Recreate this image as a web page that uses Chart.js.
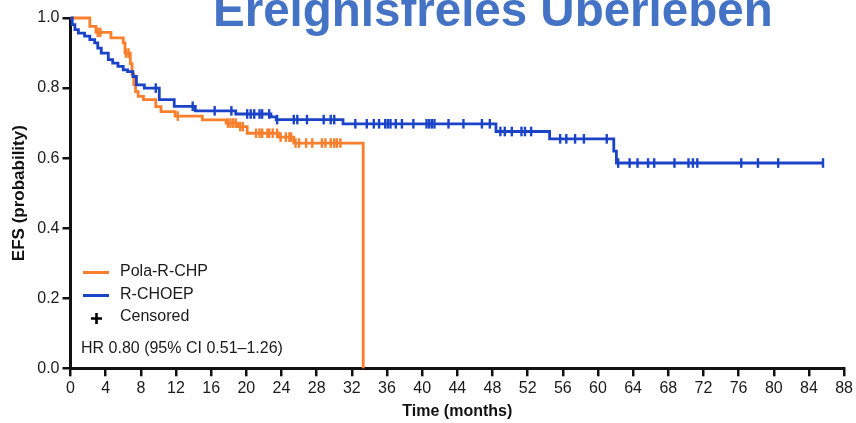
<!DOCTYPE html>
<html>
<head>
<meta charset="utf-8">
<script src="https://cdn.jsdelivr.net/npm/chart.js@4/dist/chart.umd.min.js"></script>
<style>
  html, body { margin: 0; padding: 0; background: #ffffff; }
  canvas { display: block; }
</style>
</head>
<body>
<canvas id="efs" width="856" height="423"></canvas>
<script>
// Kaplan-Meier steps: event times (months) and survival after each event
const polaTimes = [0, 2.2, 2.9, 4.6, 6.0, 6.2, 6.8, 7.0, 7.2, 7.4, 7.7, 8.3, 9.7, 10.3, 11.9, 15.0, 17.7, 19.0, 20.1, 23.7, 25.4, 33.3];
const polaSurv  = [1.0, 0.976, 0.959, 0.943, 0.929, 0.90, 0.87, 0.84, 0.81, 0.79, 0.776, 0.767, 0.747, 0.733, 0.72, 0.709, 0.70, 0.69, 0.671, 0.66, 0.643, 0.0];

const choepTimes = [0, 0.2, 0.5, 0.9, 1.6, 2.2, 2.75, 3.1, 3.5, 4.3, 4.8, 5.4, 6.0, 6.5, 7.1, 7.5, 8.4, 10.1, 11.8, 14.2, 18.8, 22.8, 23.4, 31.0, 48.4, 54.5, 61.8, 62.1, 85.6];
const choepSurv  = [1.0, 0.981, 0.967, 0.957, 0.948, 0.938, 0.929, 0.914, 0.90, 0.881, 0.871, 0.862, 0.852, 0.847, 0.833, 0.809, 0.80, 0.767, 0.748, 0.735, 0.726, 0.718, 0.71, 0.698, 0.676, 0.655, 0.62, 0.586, 0.586];

// Censoring times (months)
const polaCensored = [3.1, 3.4, 6.3, 6.6, 12.2, 17.9, 18.2, 18.5, 18.8, 19.3, 19.6, 21.1, 21.5, 21.8, 22.4, 22.6, 23.0, 23.5, 23.9, 24.5, 24.9, 25.1, 25.6, 26.0, 26.8, 27.5, 28.6, 29.0, 29.6, 30.0, 30.3, 30.7];
const choepCensored = [9.7, 13.9, 16.4, 18.3, 20.1, 20.5, 20.9, 21.5, 21.8, 22.6, 23.5, 25.4, 25.8, 26.9, 28.8, 29.6, 30.0, 32.4, 33.7, 34.5, 35.1, 35.8, 36.1, 36.4, 37.0, 37.7, 39.0, 40.5, 40.8, 41.1, 41.4, 43.0, 44.7, 46.8, 47.7, 48.9, 49.4, 50.2, 51.3, 51.7, 52.4, 55.7, 56.4, 57.4, 58.4, 61.0, 62.3, 63.6, 64.5, 65.7, 66.4, 68.7, 70.3, 70.8, 71.3, 76.3, 78.2, 80.5, 85.6];

const seriesNames = ['Pola-R-CHP', 'R-CHOEP'];
const seriesColors = ['#FA7F2C', '#1A43C8'];
const hrText = 'HR 0.80 (95% CI 0.51\u20131.26)';
const titleText = 'Ereignisfreies \u00DCberleben';

const FONT = '"Liberation Sans", Arial, Helvetica, sans-serif';
const INK = '#1a1a1a';

// survival value of a step curve at time t
function survAt(times, surv, t) {
  let s = surv[0];
  for (let i = 0; i < times.length; i++) {
    if (times[i] <= t) s = surv[i]; else break;
  }
  return s;
}

const toPoints = (ts, ss) => ts.map((t, i) => ({ x: t, y: ss[i] }));
const censorPoints = (cs, ts, ss) => cs.map(t => ({ x: t, y: survAt(ts, ss, t) }));

const overlay = {
  id: 'overlay',
  afterDraw(chart) {
    const ctx = chart.ctx;
    ctx.save();
    // heading
    ctx.fillStyle = '#4472C4';
    ctx.font = 'bold 47.5px ' + FONT;
    ctx.textAlign = 'left';
    ctx.textBaseline = 'alphabetic';
    ctx.fillText(titleText, 213, 25.5);

    // legend inside the plot
    ctx.lineWidth = 3;
    ctx.lineCap = 'butt';
    const rows = [272.5, 295.5];
    rows.forEach((y, i) => {
      ctx.strokeStyle = seriesColors[i];
      ctx.beginPath();
      ctx.moveTo(83, y);
      ctx.lineTo(109, y);
      ctx.stroke();
    });
    ctx.strokeStyle = '#000';
    ctx.lineWidth = 2.6;
    ctx.beginPath();
    ctx.moveTo(91, 318.5); ctx.lineTo(102, 318.5);
    ctx.moveTo(96.5, 313); ctx.lineTo(96.5, 324);
    ctx.stroke();

    ctx.fillStyle = INK;
    ctx.font = '16px ' + FONT;
    ctx.textBaseline = 'middle';
    ctx.fillText(seriesNames[0], 120, 272);
    ctx.fillText(seriesNames[1], 120, 295);
    ctx.fillText('Censored', 120, 317);
    ctx.fillText(hrText, 81, 349);
    ctx.restore();
  }
};

new Chart(document.getElementById('efs'), {
  type: 'line',
  data: {
    datasets: [
      {
        label: seriesNames[1],
        data: toPoints(choepTimes, choepSurv),
        stepped: 'before',
        borderColor: seriesColors[1],
        borderWidth: 2.8,
        pointRadius: 0,
        fill: false,
        clip: false
      },
      {
        label: seriesNames[0],
        data: toPoints(polaTimes, polaSurv),
        stepped: 'before',
        borderColor: seriesColors[0],
        borderWidth: 2.8,
        pointRadius: 0,
        fill: false,
        clip: false
      },
      {
        label: seriesNames[1] + ' censored',
        data: censorPoints(choepCensored, choepTimes, choepSurv),
        showLine: false,
        pointStyle: 'line',
        rotation: 90,
        pointRadius: 4.8,
        pointBorderWidth: 2.4,
        borderColor: seriesColors[1],
        backgroundColor: seriesColors[1],
        clip: false
      },
      {
        label: seriesNames[0] + ' censored',
        data: censorPoints(polaCensored, polaTimes, polaSurv),
        showLine: false,
        pointStyle: 'line',
        rotation: 90,
        pointRadius: 4.8,
        pointBorderWidth: 2.4,
        borderColor: seriesColors[0],
        backgroundColor: seriesColors[0],
        clip: false
      }
    ]
  },
  options: {
    responsive: false,
    animation: false,
    events: [],
    layout: { padding: { top: 18, right: 10, left: 0, bottom: 0 } },
    plugins: {
      legend: { display: false },
      tooltip: { enabled: false },
      title: { display: false }
    },
    scales: {
      x: {
        type: 'linear',
        min: 0,
        max: 88,
        afterFit(scale) { scale.height = 54.7; },
        ticks: {
          stepSize: 4,
          color: INK,
          padding: 3,
          maxRotation: 0,
          autoSkip: false,
          font: { family: FONT, size: 16 }
        },
        grid: {
          drawOnChartArea: false,
          drawTicks: true,
          tickLength: 8,
          lineWidth: 2.5,
          tickColor: '#111'
        },
        border: { display: true, width: 3, color: '#111' },
        title: {
          display: true,
          text: 'Time (months)',
          color: '#111',
          padding: { top: 0, bottom: 2 },
          font: { family: FONT, size: 16, weight: 'bold' }
        }
      },
      y: {
        type: 'linear',
        min: 0,
        max: 1,
        afterFit(scale) { scale.width = 70.5; },
        ticks: {
          stepSize: 0.2,
          color: INK,
          padding: 3,
          font: { family: FONT, size: 16 },
          callback: v => Number(v).toFixed(1)
        },
        grid: {
          drawOnChartArea: false,
          drawTicks: true,
          tickLength: 8,
          lineWidth: 2.5,
          tickColor: '#111'
        },
        border: { display: true, width: 3, color: '#111' },
        title: {
          display: true,
          text: 'EFS (probability)',
          color: '#111',
          padding: { top: 9.5, bottom: 0 },
          font: { family: FONT, size: 17, weight: 'bold' }
        }
      }
    }
  },
  plugins: [overlay]
});
</script>
</body>
</html>
